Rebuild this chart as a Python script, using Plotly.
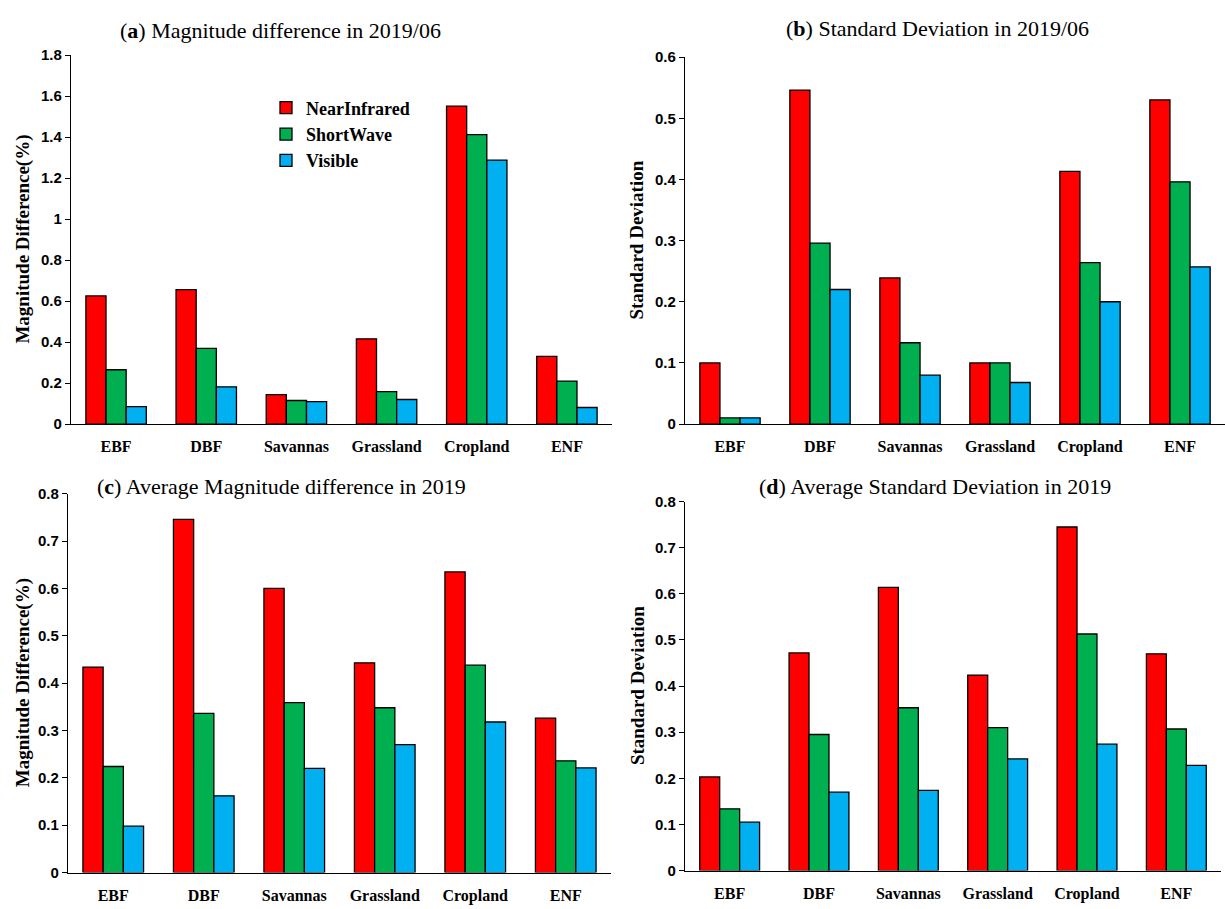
import plotly.graph_objects as go
from plotly.subplots import make_subplots

# Land-cover classes and spectral bands
categories = ["EBF", "DBF", "Savannas", "Grassland", "Cropland", "ENF"]
band_names = ["NearInfrared", "ShortWave", "Visible"]
band_colors = ["#FF0000", "#00B050", "#00B0F0"]

# (a) Magnitude difference in 2019/06 (%)
mag_jun_nir = [0.625, 0.656, 0.144, 0.416, 1.551, 0.330]
mag_jun_sw = [0.265, 0.369, 0.115, 0.158, 1.412, 0.210]
mag_jun_vis = [0.085, 0.182, 0.110, 0.120, 1.288, 0.081]

# (b) Standard deviation in 2019/06
std_jun_nir = [0.100, 0.546, 0.239, 0.100, 0.413, 0.530]
std_jun_sw = [0.010, 0.296, 0.133, 0.100, 0.264, 0.396]
std_jun_vis = [0.010, 0.220, 0.080, 0.068, 0.200, 0.257]

# (c) Average magnitude difference in 2019 (%)
mag_avg_nir = [0.434, 0.746, 0.600, 0.443, 0.635, 0.326]
mag_avg_sw = [0.224, 0.336, 0.359, 0.348, 0.438, 0.236]
mag_avg_vis = [0.098, 0.162, 0.220, 0.270, 0.318, 0.221]

# (d) Average standard deviation in 2019
std_avg_nir = [0.203, 0.472, 0.614, 0.424, 0.745, 0.470]
std_avg_sw = [0.134, 0.295, 0.353, 0.310, 0.513, 0.307]
std_avg_vis = [0.105, 0.170, 0.174, 0.242, 0.274, 0.228]

panels = [
    ("(<b>a</b>) Magnitude difference in 2019/06", "Magnitude Difference(%)",
     [mag_jun_nir, mag_jun_sw, mag_jun_vis], 1.8, 0.2),
    ("(<b>b</b>) Standard Deviation in 2019/06", "Standard Deviation",
     [std_jun_nir, std_jun_sw, std_jun_vis], 0.6, 0.1),
    ("(<b>c</b>) Average Magnitude difference in 2019", "Magnitude Difference(%)",
     [mag_avg_nir, mag_avg_sw, mag_avg_vis], 0.8, 0.1),
    ("(<b>d</b>) Average Standard Deviation in 2019", "Standard Deviation",
     [std_avg_nir, std_avg_sw, std_avg_vis], 0.8, 0.1),
]

W, H = 1225, 909
# pixel boxes of each plot area: (left, right, bottom, top)
boxes = [(71, 612, 423, 47), (685, 1225, 423, 49),
         (68, 611, 880, 494), (685, 1221, 878, 502)]
title_pos = [(280, 22), (937, 20), (281, 487), (935, 487)]
ytitle_x = [23, 637, 23, 637]

fig = make_subplots(rows=2, cols=2)

serif = "Liberation Serif"
sans = "Liberation Sans"

for i, (title, ytitle, series, ymax, dtick) in enumerate(panels):
    r, c = i // 2 + 1, i % 2 + 1
    for name, color, vals in zip(band_names, band_colors, series):
        fig.add_trace(
            go.Bar(x=categories, y=vals, name=name,
                   marker=dict(color=color, line=dict(color="black", width=1.3)),
                   showlegend=(i == 0)),
            row=r, col=c)
    left, right, bottom, top = boxes[i]
    fig.update_xaxes(domain=[left / W, right / W], row=r, col=c,
                     showline=True, linecolor="black", linewidth=1.3,
                     ticks="", showgrid=False, ticklabelstandoff=8,
                     range=[-0.5, 5.5],
                     tickfont=dict(family=serif, size=16, color="black", weight="bold"))
    fig.update_yaxes(domain=[1 - bottom / H, 1 - top / H], row=r, col=c,
                     range=[0, ymax], dtick=dtick, tick0=0,
                     showline=True, linecolor="black", linewidth=1.3,
                     ticks="outside", ticklen=5, tickcolor="black", tickwidth=1.3,
                     showgrid=False, zeroline=False,
                     tickfont=dict(family=sans, size=15, color="black", weight="bold"))
    tx, ty = title_pos[i]
    fig.add_annotation(text=title, x=tx / W, y=1 - ty / H, xref="paper", yref="paper",
                       xanchor="center", yanchor="middle", showarrow=False,
                       font=dict(family=serif, size=22, color="black"))
    fig.add_annotation(text=ytitle, x=ytitle_x[i] / W, y=1 - (bottom + top) / 2 / H,
                       xref="paper", yref="paper", textangle=-90,
                       xanchor="center", yanchor="middle", showarrow=False,
                       font=dict(family=serif, size=19, color="black", weight="bold"))

fig.update_layout(
    width=W, height=H,
    margin=dict(l=0, r=0, t=0, b=0),
    paper_bgcolor="white", plot_bgcolor="white",
    barmode="group", bargap=0.33, bargroupgap=0,
    legend=dict(x=266 / W, y=1 - 82 / H, xanchor="left", yanchor="top",
                bgcolor="rgba(0,0,0,0)", tracegroupgap=0, itemwidth=30,
                font=dict(family=serif, size=18, color="black", weight="bold")),
)

fig.write_html("out.html")
